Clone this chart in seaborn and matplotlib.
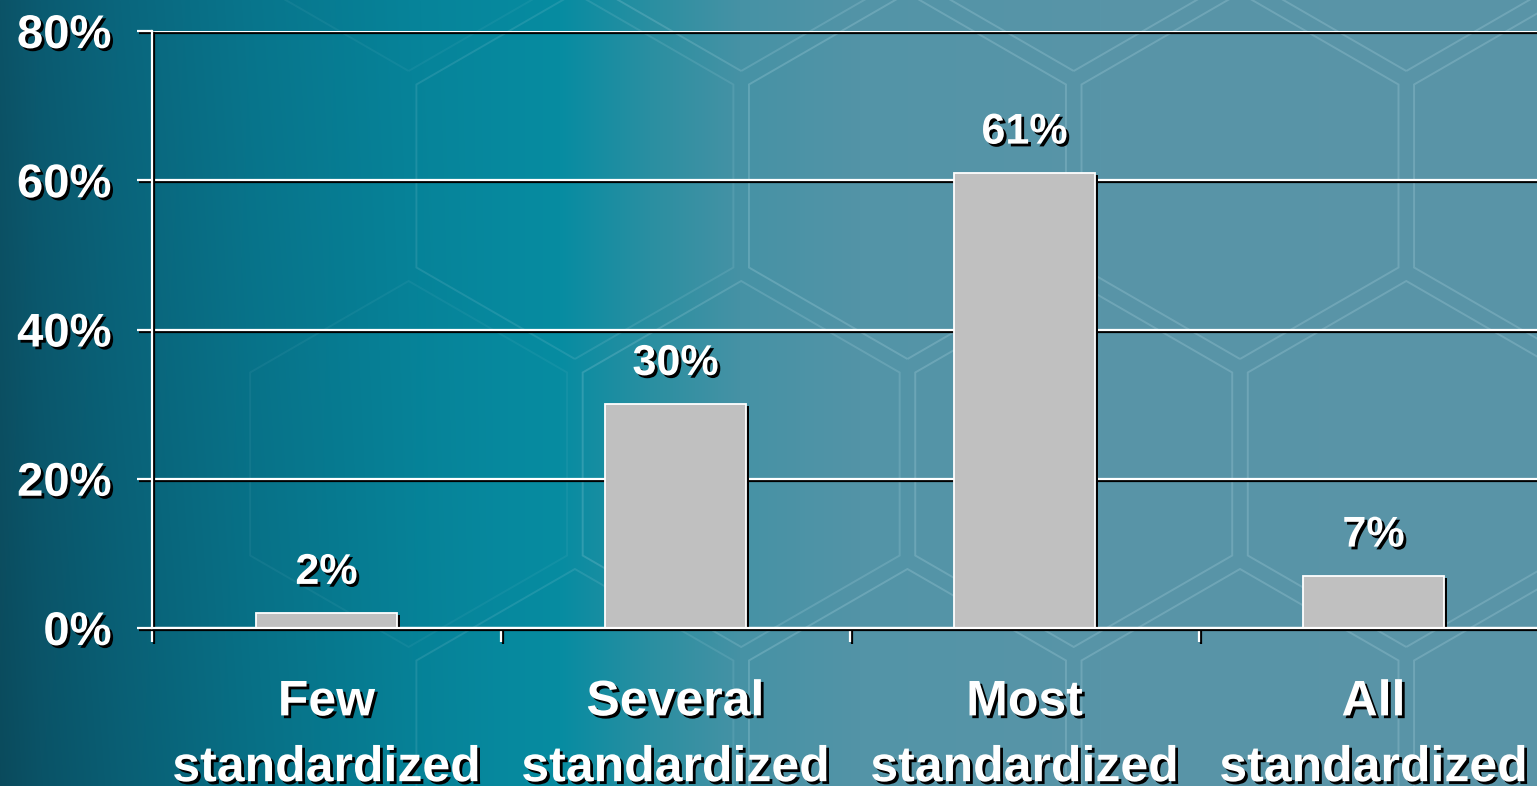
import numpy as np
import pandas as pd
import matplotlib
matplotlib.use("Agg")
import matplotlib.pyplot as plt
import matplotlib.patheffects as pe
from matplotlib.patches import RegularPolygon
import seaborn as sns

# ---- data ----
categories = ["Few\nstandardized", "Several\nstandardized",
              "Most\nstandardized", "All\nstandardized"]
values = [2, 30, 61, 7]
y_ticks = [0, 20, 40, 60, 80]
y_tick_labels = ["0%", "20%", "40%", "60%", "80%"]

df = pd.DataFrame({"category": categories, "share": values})

sns.set_theme(style="white")
plt.rcParams["font.family"] = ["Liberation Sans", "DejaVu Sans"]
plt.rcParams["font.weight"] = "bold"

W, H = 1537, 786
fig = plt.figure(figsize=(W / 100, H / 100), dpi=100)

# ---- teal gradient backdrop with a faint hexagon lattice ----
bg = fig.add_axes([0, 0, 1, 1], zorder=0)
stops_x = [0, 40, 120, 250, 420, 560, 650, 740, 860, 1100, 1537]
stops_c = ["#0c5367", "#0b5b71", "#0a667d", "#08758c", "#06849a",
           "#078ca1", "#2a8fa1", "#4692a5", "#5394a7", "#5895a8", "#5a94a7"]
rgb = np.array([matplotlib.colors.to_rgb(c) for c in stops_c])
xs = np.arange(W)
row = np.stack([np.interp(xs, stops_x, rgb[:, k]) for k in range(3)], axis=-1)
ys = np.linspace(0, 1, H)[:, None, None]
shade = 1 - 0.10 * ys * np.clip(1 - xs / 500, 0, 1)[None, :, None]
img = row[None, :, :] * shade
bg.imshow(img, extent=(0, W, H, 0), aspect="auto", interpolation="bilinear")
bg.set_xlim(0, W)
bg.set_ylim(H, 0)
bg.axis("off")

side = 192
hex_w = side * np.sqrt(3)
row_h = 1.5 * side
cx0, cy0 = 1240, 176
for j in range(-2, 4):
    cy = cy0 + j * row_h
    off = (hex_w / 2) if j % 2 else 0
    for i in range(-6, 3):
        cx = cx0 + i * hex_w + off
        fade = np.clip((cx - 250) / 600, 0, 1)
        if fade <= 0:
            continue
        bg.add_patch(RegularPolygon((cx, cy), numVertices=6, radius=side - 9,
                                    orientation=0, fill=False,
                                    edgecolor="#b5dbe6", linewidth=1.4,
                                    alpha=0.25 * fade))

# ---- bar chart ----
ax = fig.add_axes([152 / W, (H - 628) / H, (1548 - 152) / W, 597 / H], zorder=1)
ax.set_facecolor("none")
sns.barplot(data=df, x="category", y="share", color="#c0c0c0", saturation=1,
            width=0.404, edgecolor="white", linewidth=1.3, ax=ax)

ax.set_xlim(-0.5, 3.5)
ax.set_ylim(0, 80)
ax.set_xlabel("")
ax.set_ylabel("")

line_fx = [pe.SimpleLineShadow(offset=(1.5, -1.5), shadow_color="black", alpha=1),
           pe.Normal()]
text_fx = [pe.withSimplePatchShadow(offset=(2, -2), shadow_rgbFace="black", alpha=1)]

for bar in ax.patches:
    bar.set_path_effects([pe.SimplePatchShadow(offset=(2.2, -1.5),
                                               shadow_rgbFace="black", alpha=1),
                          pe.Normal()])

ax.set_axisbelow(True)
ax.yaxis.grid(True, color="white", linewidth=1.6)
for gl in ax.get_ygridlines():
    gl.set_path_effects(line_fx)

for s in ["top", "right"]:
    ax.spines[s].set_visible(False)
for s in ["left", "bottom"]:
    ax.spines[s].set_color("white")
    ax.spines[s].set_linewidth(1.6)
    ax.spines[s].set_path_effects(line_fx)
    ax.spines[s].set_zorder(3)

ax.set_yticks(y_ticks)
ax.set_yticklabels(y_tick_labels)
ax.tick_params(axis="y", direction="out", length=11, width=1.6, color="white",
               pad=18, labelsize=34, labelcolor="white", left=True)

ax.set_xticks(range(len(categories)))
ax.set_xticklabels(categories, linespacing=1.55)
ax.set_xticks([-0.5, 0.5, 1.5, 2.5], minor=True)
ax.tick_params(axis="x", which="major", length=0, pad=37, labelsize=36,
               labelcolor="white")
ax.tick_params(axis="x", which="minor", direction="out", length=10, width=1.6,
               color="white", bottom=True)

for lab in ax.get_yticklabels() + ax.get_xticklabels():
    lab.set_fontweight("bold")
    lab.set_path_effects(text_fx)
for tk in ax.yaxis.get_major_ticks() + ax.xaxis.get_minor_ticks():
    tk.tick1line.set_path_effects(line_fx)

for i, v in enumerate(values):
    ax.annotate(f"{v}%", xy=(i, v), xytext=(0, 21), textcoords="offset points",
                ha="center", va="baseline", fontsize=31, fontweight="bold",
                color="white", path_effects=text_fx, zorder=5)

fig.savefig("out.png", dpi=100)
